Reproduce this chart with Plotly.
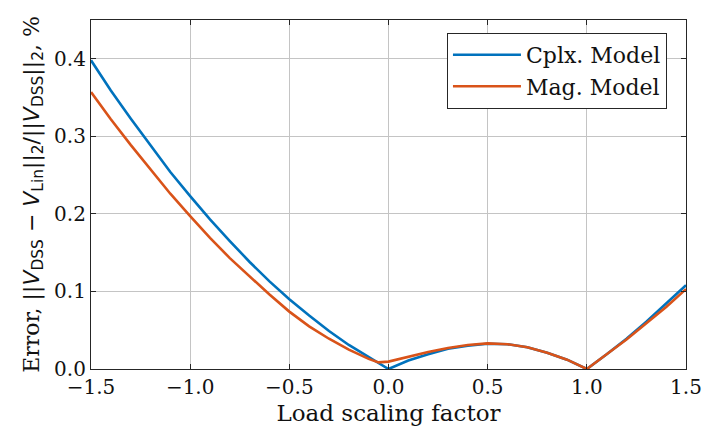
import plotly.graph_objects as go

# Load scaling factor samples
load_factor = [-1.5, -1.4, -1.3, -1.2, -1.1, -1.0, -0.9, -0.8, -0.7, -0.6,
               -0.5, -0.4, -0.3, -0.2, -0.1, -0.05, 0.0, 0.1, 0.2, 0.3,
               0.4, 0.5, 0.6, 0.7, 0.8, 0.9, 1.0, 1.1, 1.2, 1.3, 1.4, 1.5]

# Relative voltage error (%) of the complex linearised model
err_cplx = [0.398, 0.359, 0.323, 0.288, 0.254, 0.223, 0.193, 0.165, 0.138, 0.113,
            0.090, 0.069, 0.049, 0.031, 0.015, 0.0072, 0.0, 0.011, 0.019, 0.026,
            0.030, 0.0325, 0.032, 0.028, 0.021, 0.012, 0.0, 0.019, 0.039, 0.061,
            0.084, 0.108]

# Relative voltage error (%) of the magnitude model
err_mag = [0.357, 0.322, 0.289, 0.257, 0.226, 0.197, 0.169, 0.143, 0.119, 0.096,
           0.074, 0.055, 0.039, 0.025, 0.013, 0.0085, 0.0095, 0.016, 0.022, 0.027,
           0.031, 0.033, 0.032, 0.028, 0.021, 0.012, 0.0, 0.019, 0.038, 0.059,
           0.080, 0.103]

x_ticks = [-1.5, -1.0, -0.5, 0.0, 0.5, 1.0, 1.5]
y_ticks = [0.0, 0.1, 0.2, 0.3, 0.4]

SERIF = "DejaVu Serif"
SANS = "DejaVu Sans"
INK = "#111111"

fig = go.Figure()
fig.add_trace(go.Scatter(x=load_factor, y=err_cplx, mode="lines", name="Cplx. Model",
                         line=dict(color="#0072BD", width=2.6)))
fig.add_trace(go.Scatter(x=load_factor, y=err_mag, mode="lines", name="Mag. Model",
                         line=dict(color="#D95319", width=2.6)))

def m(s):
    return f'<span style="font-family:{SANS}">{s}</span>'

ytitle = ("Error, " + m("||<i>V</i><sub>DSS</sub> − <i>V</i><sub>Lin</sub>||<sub>2</sub>"
                        "/||<i>V</i><sub>DSS</sub>||<sub>2</sub>") + ", %")

axis_common = dict(
    showgrid=True, gridcolor="#c4c4c4", gridwidth=1,
    showline=True, linecolor="#262626", linewidth=1.2, mirror="ticks",
    ticks="inside", ticklen=5, tickcolor="#262626", tickwidth=1.2,
    zeroline=False, automargin=False,
    tickfont=dict(family=SERIF, size=20, color=INK),
)

fig.update_xaxes(range=[-1.5, 1.5], tickvals=x_ticks,
                 ticktext=[f"{v:.1f}".replace("-", "−") for v in x_ticks],
                 title=dict(text="Load scaling factor", standoff=6,
                            font=dict(family=SERIF, size=23, color=INK)),
                 **axis_common)
fig.update_yaxes(range=[0, 0.45], tickvals=y_ticks,
                 ticktext=[f"{v:.1f}" for v in y_ticks],
                 title=dict(text=ytitle, standoff=8,
                            font=dict(family=SERIF, size=22, color=INK)),
                 **axis_common)

fig.update_layout(
    width=703, height=433,
    margin=dict(l=91, r=17, t=20, b=64),
    paper_bgcolor="white", plot_bgcolor="white",
    legend=dict(x=0.968, y=0.963, xanchor="right", yanchor="top",
                bgcolor="white", bordercolor="#262626", borderwidth=1,
                font=dict(family=SERIF, size=22, color=INK),
                itemwidth=68),
    showlegend=True,
)

fig.write_html("out.html")
